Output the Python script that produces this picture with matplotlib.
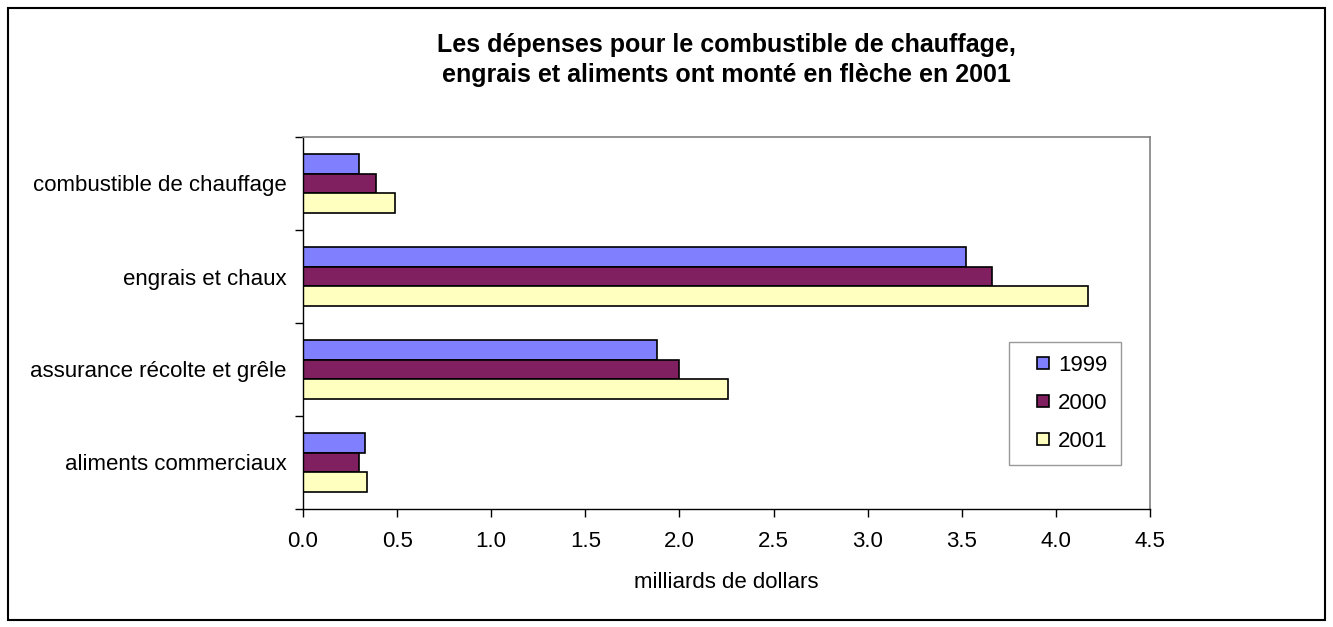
import matplotlib
matplotlib.use("Agg")
import matplotlib.pyplot as plt
from matplotlib.patches import Rectangle
from matplotlib.container import BarContainer
from matplotlib.legend_handler import HandlerPatch, update_from_first_child
import numpy as np

plt.rcParams['font.family'] = ['Liberation Sans', 'DejaVu Sans']

categories = ["combustible de chauffage", "engrais et chaux",
              "assurance récolte et grêle", "aliments commerciaux"]
years = ["1999", "2000", "2001"]
v1999 = [0.30, 3.52, 1.88, 0.33]
v2000 = [0.39, 3.66, 2.00, 0.30]
v2001 = [0.49, 4.17, 2.26, 0.34]
colors = ["#8080FF", "#802060", "#FFFFC0"]
xticks = [0.0, 0.5, 1.0, 1.5, 2.0, 2.5, 3.0, 3.5, 4.0, 4.5]

W, H = 1333, 627
fig = plt.figure(figsize=(W / 100, H / 100), dpi=100)
fig.patches.append(Rectangle((8 / W, 1 - 620 / H), (1325 - 8) / W, (620 - 8) / H,
                             transform=fig.transFigure, fill=False,
                             edgecolor="black", linewidth=1.5))

ax = fig.add_axes([303 / W, 1 - 509 / H, (1150 - 303) / W, (509 - 137) / H])

n = len(categories)
y = np.arange(n)
bh = 0.215
series = [v1999, v2000, v2001]
for i, (vals, c, lab) in enumerate(zip(series, colors, years)):
    ax.barh(y + (i - 1) * bh, vals, height=bh, color=c, edgecolor="black",
            linewidth=1.2, label=lab)

ax.set_ylim(n - 0.5, -0.5)
ax.set_xlim(0, 4.5)
ax.set_xticks(xticks)
ax.set_xticklabels([f"{t:.1f}" for t in xticks], fontsize=16)
ax.set_yticks(y)
ax.set_yticklabels(categories, fontsize=16)
ax.set_yticks(np.arange(n + 1) - 0.5, minor=True)
ax.tick_params(axis="y", which="major", length=0, pad=12)
ax.tick_params(axis="y", which="minor", length=6, direction="out", width=1)
ax.tick_params(axis="x", length=6, direction="out", width=1, pad=10)

for s in ["top", "right"]:
    ax.spines[s].set_color("#808080")
    ax.spines[s].set_linewidth(1.2)
for s in ["left", "bottom"]:
    ax.spines[s].set_color("black")
    ax.spines[s].set_linewidth(1.0)

ax.set_xlabel("milliards de dollars", fontsize=16, labelpad=14)

fig.text(726 / W, 1 - 60 / H,
         "Les dépenses pour le combustible de chauffage,\nengrais et aliments ont monté en flèche en 2001",
         ha="center", va="center", fontsize=18, fontweight="bold", linespacing=1.3)


def square_patch(legend, orig_handle, xdescent, ydescent, width, height, fontsize):
    s = 8.6
    return Rectangle((width - s - xdescent, (height - s) / 2 - ydescent), s, s)


leg = ax.legend(loc="upper left", bbox_to_anchor=(1009 / W, 1 - 342 / H),
                bbox_transform=fig.transFigure, fontsize=16, frameon=True,
                fancybox=False, edgecolor="#808080", handlelength=1.2,
                handleheight=0.55, handletextpad=0.4, labelspacing=0.75,
                borderpad=0.6, borderaxespad=0,
                handler_map={BarContainer: HandlerPatch(
                    patch_func=square_patch, update_func=update_from_first_child)})
leg.get_frame().set_linewidth(1.0)

fig.savefig("out.png", dpi=100)
